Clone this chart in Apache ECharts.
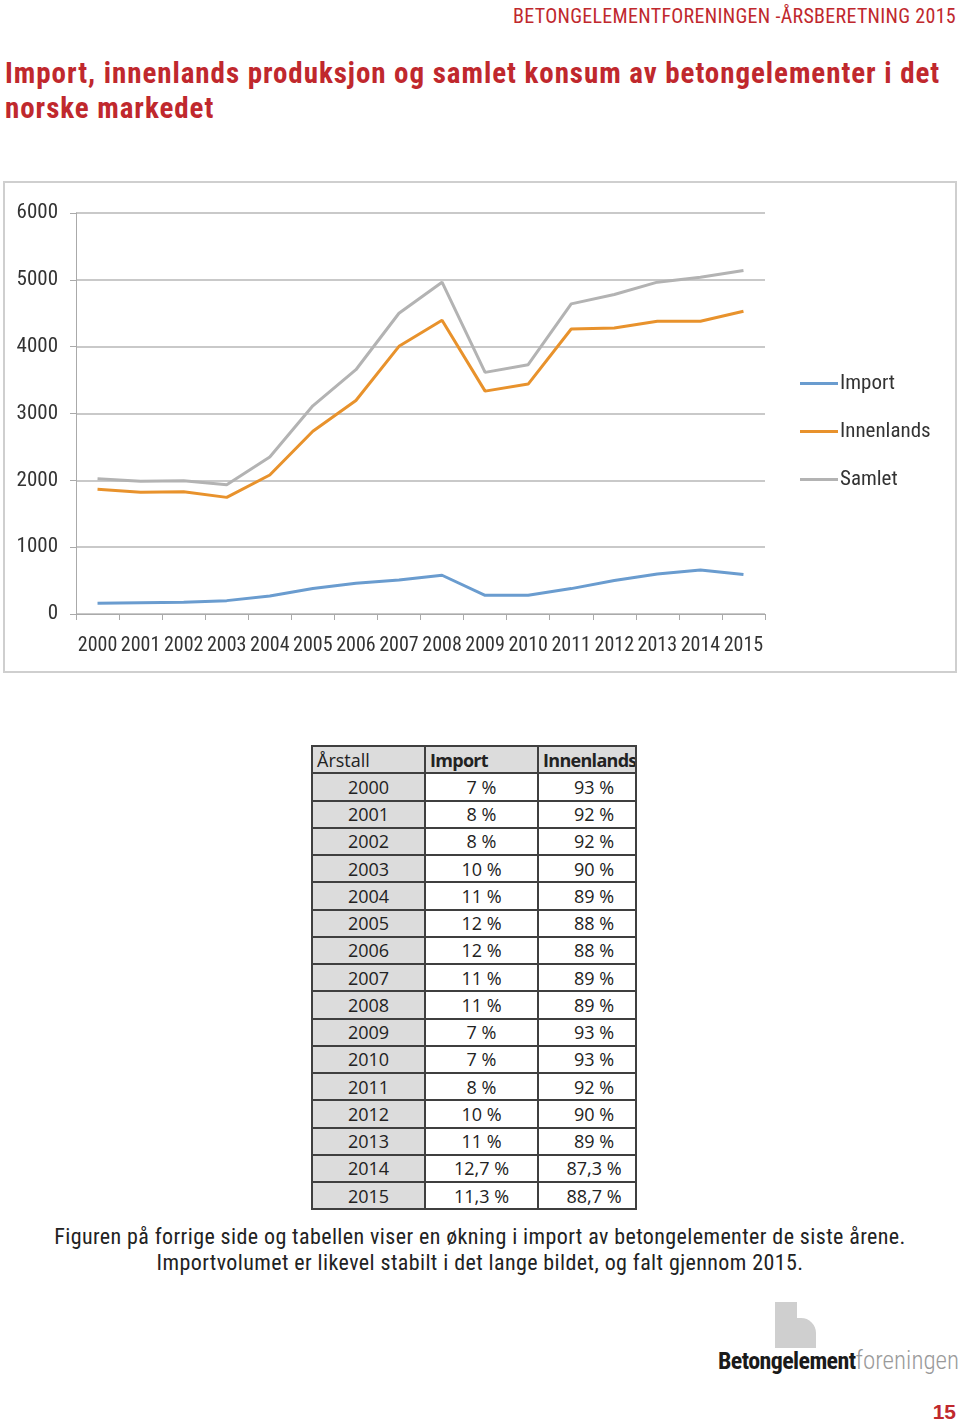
<!DOCTYPE html>
<html>
<head>
<meta charset="utf-8">
<script src="https://cdn.jsdelivr.net/npm/echarts@6/dist/echarts.min.js"></script>
<style>
  html, body { margin: 0; padding: 0; background: #fff; }
  body { width: 960px; height: 1422px; position: relative; overflow: hidden; font-family: "Roboto Condensed", sans-serif; }
  .hdr { position: absolute; right: 4px; top: 4px; color: #c0282d; font-size: 20px; letter-spacing: 0.3px; font-family: "Roboto Condensed", sans-serif; white-space: nowrap; }
  .title { position: absolute; left: 5px; top: 56px; width: 955px; color: #c0282d; font-size: 29px; font-weight: bold; line-height: 35px; font-family: "Roboto Condensed", sans-serif; letter-spacing: 0.95px; }
  #chart { position: absolute; left: 3px; top: 181px; width: 950px; height: 488px; border: 2px solid #cfcfcf; }
  table { position: absolute; left: 311px; top: 745px; width: 324px; border-collapse: collapse; font-family: "Open Sans", sans-serif; font-size: 18px; color: #222; table-layout: fixed; }
  tr { height: 27.25px; }
  td { border: 2px solid #3f3f3f; padding: 0; text-align: center; line-height: 22px; overflow: hidden; white-space: nowrap; }
  td.y { background: #dcdcdc; }
  tr.h td { background: #dcdcdc; text-align: left; padding-left: 4px; }
  tr.h td.b { font-weight: bold; letter-spacing: -0.7px; }
  .cap { position: absolute; left: 0; width: 960px; text-align: center; color: #222; font-size: 22px; letter-spacing: 0.4px; font-family: "Roboto Condensed", sans-serif; line-height: 26px; top: 1224px; }
  .logo-a { position: absolute; left: 775px; top: 1302px; width: 22px; height: 46px; background: #cfcfcf; }
  .logo-b { position: absolute; left: 790px; top: 1318px; width: 26px; height: 30px; background: #cfcfcf; border-radius: 0 15px 0 0; }
  .logo-t { position: absolute; left: 718px; top: 1346px; font-size: 24px; font-family: "Roboto Condensed", sans-serif; letter-spacing: -0.6px; white-space: nowrap; }
  .logo-t b { color: #1a1a1a; font-weight: bold; }
  .logo-t span { color: #9a9a9a; font-weight: 300; font-size: 25px; letter-spacing: 0px; }
  .pg { position: absolute; right: 4px; top: 1400px; color: #c0282d; font-size: 21px; font-weight: bold; font-family: "Liberation Sans", sans-serif; }
</style>
</head>
<body>
<div class="hdr">BETONGELEMENTFORENINGEN -ÅRSBERETNING 2015</div>
<div class="title">Import, innenlands produksjon og samlet konsum av betongelementer i det norske markedet</div>
<div id="chart"></div>
<table id="tbl"></table>
<div class="cap">Figuren på forrige side og tabellen viser en økning i import av betongelementer de siste årene.<br>Importvolumet er likevel stabilt i det lange bildet, og falt gjennom 2015.</div>
<div class="logo-a"></div><div class="logo-b"></div>
<div class="logo-t"><b>Betongelement</b><span>foreningen</span></div>
<div class="pg">15</div>
<script>
const years = ['2000','2001','2002','2003','2004','2005','2006','2007','2008','2009','2010','2011','2012','2013','2014','2015'];
const importVals = [160, 170, 175, 200, 270, 380, 460, 510, 580, 280, 280, 380, 500, 600, 660, 590];
const innenlandsVals = [1865, 1820, 1830, 1745, 2080, 2735, 3195, 4005, 4395, 3335, 3440, 4265, 4280, 4380, 4380, 4530];
const samletVals = [2025, 1985, 1995, 1935, 2350, 3115, 3655, 4500, 4965, 3615, 3730, 4640, 4780, 4965, 5040, 5140];
const yTicks = [0, 1000, 2000, 3000, 4000, 5000, 6000];
const tableYears = years;
const tableImport = ['7 %','8 %','8 %','10 %','11 %','12 %','12 %','11 %','11 %','7 %','7 %','8 %','10 %','11 %','12,7 %','11,3 %'];
const tableInnenlands = ['93 %','92 %','92 %','90 %','89 %','88 %','88 %','89 %','89 %','93 %','93 %','92 %','90 %','89 %','87,3 %','88,7 %'];
const tableHeader = ['Årstall','Import','Innenlands'];

// table
const tbl = document.getElementById('tbl');
let html = '<colgroup><col style="width:113px"><col style="width:113px"><col style="width:98px"></colgroup>';
html += '<tr class="h"><td>' + tableHeader[0] + '</td><td class="b">' + tableHeader[1] + '</td><td class="b">' + tableHeader[2] + '</td></tr>';
for (let i = 0; i < tableYears.length; i++) {
  html += '<tr><td class="y">' + tableYears[i] + '</td><td>' + tableImport[i] + '</td><td style="padding-left:14px">' + tableInnenlands[i] + '</td></tr>';
}
tbl.innerHTML = html;

const font = '"Roboto Condensed", sans-serif';
const chart = echarts.init(document.getElementById('chart'), null, {renderer: 'canvas'});
chart.setOption({
  animation: false,
  grid: { left: 71, right: 190, top: 30, bottom: 57 },
  legend: {
    orient: 'vertical', left: 790, top: 185, itemGap: 27,
    itemWidth: 38, itemHeight: 3, icon: 'rect',
    textStyle: { fontFamily: font, fontSize: 21, color: '#333', padding: [0,0,0,-3] },
    data: ['Import', 'Innenlands', 'Samlet']
  },
  xAxis: {
    type: 'category', data: years, boundaryGap: true,
    axisLine: { lineStyle: { color: '#aaa', width: 1 } },
    axisTick: { show: true, length: 6, lineStyle: { color: '#aaa' } },
    axisLabel: { fontFamily: font, fontSize: 20, color: '#333', margin: 22, interval: 0 }
  },
  yAxis: {
    type: 'value', min: 0, max: 6000, interval: 1000,
    axisLine: { show: true, lineStyle: { color: '#aaa', width: 1 } },
    axisTick: { show: true, length: 6, lineStyle: { color: '#aaa' } },
    splitLine: { lineStyle: { color: '#c9c9c9', width: 2 } },
    axisLabel: { fontFamily: font, fontSize: 21, color: '#333', margin: 18, padding: [4, 0, 0, 0],
      formatter: v => yTicks.includes(v) ? String(v) : '' }
  },
  series: [
    { name: 'Import', type: 'line', data: importVals, symbol: 'none', lineStyle: { color: '#6a9ccf', width: 3 }, itemStyle: { color: '#6a9ccf' } },
    { name: 'Innenlands', type: 'line', data: innenlandsVals, symbol: 'none', lineStyle: { color: '#e8922c', width: 3 }, itemStyle: { color: '#e8922c' } },
    { name: 'Samlet', type: 'line', data: samletVals, symbol: 'none', lineStyle: { color: '#b3b3b3', width: 3 }, itemStyle: { color: '#b3b3b3' } }
  ]
});
</script>
</body>
</html>
